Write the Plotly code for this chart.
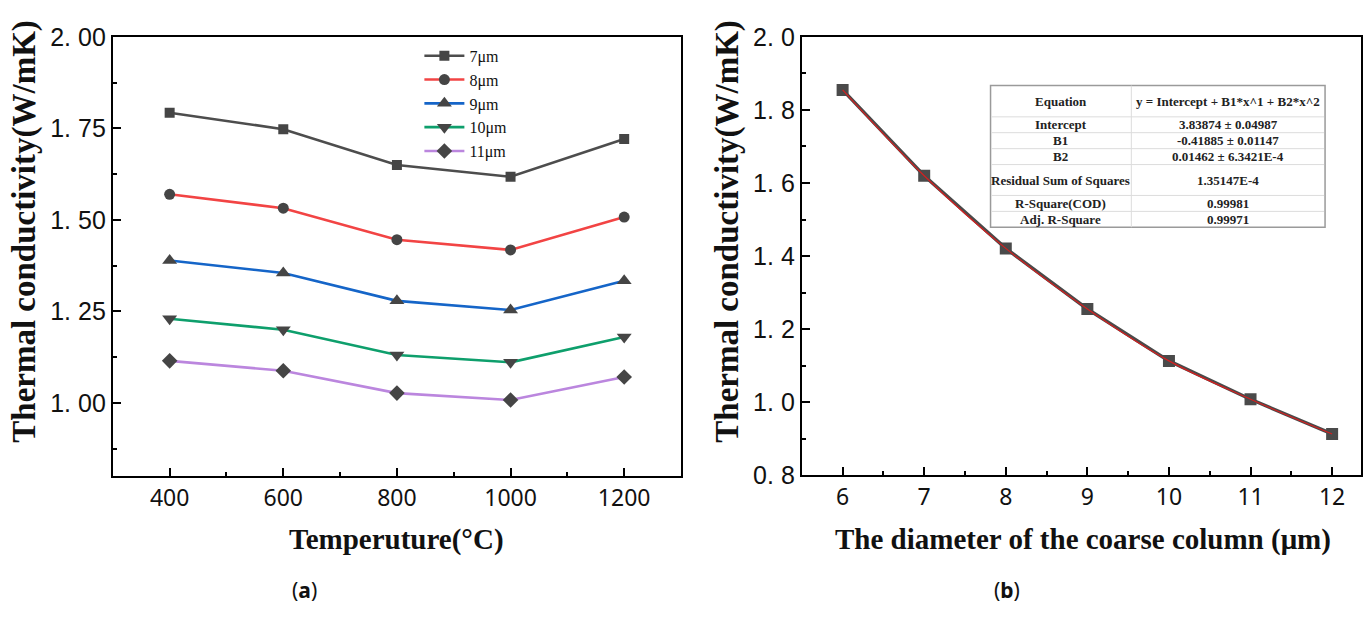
import plotly.graph_objects as go

W, H = 1363, 621

# ---------------- data ----------------
temperature = [400, 600, 800, 1000, 1200]
series_names = ["7μm", "8μm", "9μm", "10μm", "11μm"]
tc_7um = [1.793, 1.748, 1.650, 1.618, 1.721]
tc_8um = [1.570, 1.532, 1.446, 1.418, 1.508]
tc_9um = [1.389, 1.355, 1.279, 1.254, 1.334]
tc_10um = [1.230, 1.200, 1.131, 1.111, 1.180]
tc_11um = [1.115, 1.088, 1.027, 1.008, 1.071]

diameter = [6, 7, 8, 9, 10, 11, 12]
tc_diameter = [1.855, 1.620, 1.421, 1.255, 1.113, 1.008, 0.913]

left_yticks = [1.00, 1.25, 1.50, 1.75, 2.00]
left_yticktext = ["1. 00", "1. 25", "1. 50", "1. 75", "2. 00"]
right_yticks = [0.8, 1.0, 1.2, 1.4, 1.6, 1.8, 2.0]
right_yticktext = ["0. 8", "1. 0", "1. 2", "1. 4", "1. 6", "1. 8", "2. 0"]
left_xticks = [400, 600, 800, 1000, 1200]
right_xticks = [6, 7, 8, 9, 10, 11, 12]

table_labels = ["Equation", "Intercept", "B1", "B2", "Residual Sum of Squares",
                "R-Square(COD)", "Adj. R-Square"]
table_values = ["y = Intercept + B1*x^1 + B2*x^2", "3.83874 ± 0.04987",
                "-0.41885 ± 0.01147", "0.01462 ± 6.3421E-4", "1.35147E-4",
                "0.99981", "0.99971"]

# ---------------- styles ----------------
line_colors = ["#4d4d4d", "#f24444", "#1565c8", "#0e9f6c", "#bb86de"]
marker_symbols = ["square", "circle", "triangle-up", "triangle-down", "diamond"]
marker_sizes = [10, 11, 13, 13, 12]
marker_color = "#454545"

def px(x):
    return x / W

def py(y):
    return 1 - y / H

fig = go.Figure()

left_series = [tc_7um, tc_8um, tc_9um, tc_10um, tc_11um]
for name, vals, col, sym, ms in zip(series_names, left_series, line_colors,
                                    marker_symbols, marker_sizes):
    fig.add_trace(go.Scatter(
        x=temperature, y=vals, name=name, mode="lines+markers",
        line=dict(color=col, width=2.6),
        marker=dict(symbol=sym, size=ms, color=marker_color),
        xaxis="x", yaxis="y"))

fig.add_trace(go.Scatter(
    x=diameter, y=tc_diameter, mode="lines+markers", showlegend=False,
    line=dict(color="#4a4a4a", width=3.5),
    marker=dict(symbol="square", size=12, color="#4a4a4a"),
    xaxis="x2", yaxis="y2"))
fig.add_trace(go.Scatter(
    x=diameter, y=tc_diameter, mode="lines", showlegend=False,
    line=dict(color="#d42020", width=1.2, shape="spline"),
    xaxis="x2", yaxis="y2"))

axis_common = dict(
    showline=True, linecolor="black", linewidth=2, mirror=True,
    ticks="inside", ticklen=8, tickwidth=2, tickcolor="black",
    showgrid=False, zeroline=False,
)

fig.update_layout(
    width=W, height=H,
    margin=dict(l=0, r=0, t=0, b=0, pad=0),
    paper_bgcolor="white", plot_bgcolor="white",
    xaxis=dict(domain=[px(113), px(682)], range=[300, 1300], anchor="y",
               tickvals=left_xticks,
               tickfont=dict(family="Noto Sans", size=23, color="#111"),
               minor=dict(ticks="inside", ticklen=4, tickwidth=2, dtick=100,
                          tick0=300, tickcolor="black"),
               **axis_common),
    yaxis=dict(domain=[py(484), py(24)], range=[0.8, 2.0], anchor="x",
               tickvals=left_yticks, ticktext=left_yticktext,
               tickfont=dict(family="Liberation Sans", size=25, color="#111"),
               minor=dict(ticks="inside", ticklen=4, tickwidth=2, dtick=0.125,
                          tick0=0.875, tickcolor="black"),
               **axis_common),
    xaxis2=dict(domain=[px(803), 1.0], range=[5.5, 12.354], anchor="y2",
                tickvals=right_xticks,
                tickfont=dict(family="Noto Sans", size=23, color="#111"),
                minor=dict(ticks="inside", ticklen=4, tickwidth=2, dtick=0.5,
                           tick0=5.5, tickcolor="black"),
                **axis_common),
    yaxis2=dict(domain=[py(483), py(24)], range=[0.8, 2.0], anchor="x2",
                tickvals=right_yticks, ticktext=right_yticktext,
                tickfont=dict(family="Liberation Sans", size=25, color="#111"),
                minor=dict(ticks="inside", ticklen=4, tickwidth=2, dtick=0.1,
                           tick0=0.9, tickcolor="black"),
                **axis_common),
    legend=dict(x=px(420), y=py(26), xanchor="left", yanchor="top",
                bgcolor="rgba(0,0,0,0)", borderwidth=0,
                font=dict(family="Liberation Serif", size=16, color="#111"),
                tracegroupgap=0, itemwidth=40),
    showlegend=True,
)

annotations = []
ytitle_font = dict(family="Liberation Serif", size=33, color="#111")
xtitle_font = dict(family="Liberation Serif", size=29, color="#111")
annotations.append(dict(text="<b>Thermal conductivity(W/mK)</b>", x=px(25), y=py(227),
                        xref="paper", yref="paper", showarrow=False, textangle=-90,
                        font=ytitle_font, xanchor="center", yanchor="middle"))
annotations.append(dict(text="<b>Thermal conductivity(W/mK)</b>", x=px(729), y=py(227),
                        xref="paper", yref="paper", showarrow=False, textangle=-90,
                        font=ytitle_font, xanchor="center", yanchor="middle"))
annotations.append(dict(text="<b>Temperuture(°C)</b>", x=px(397), y=py(550),
                        xref="paper", yref="paper", showarrow=False,
                        font=xtitle_font, xanchor="center", yanchor="middle"))
annotations.append(dict(text="<b>The diameter of the coarse column (μm)</b>", x=px(1085), y=py(550),
                        xref="paper", yref="paper", showarrow=False,
                        font=xtitle_font, xanchor="center", yanchor="middle"))
annotations.append(dict(text="(<b>a</b>)", x=px(305), y=py(603),
                        xref="paper", yref="paper", showarrow=False,
                        font=dict(family="Noto Sans", size=21, color="#111"),
                        xanchor="center", yanchor="middle"))
annotations.append(dict(text="(<b>b</b>)", x=px(1008), y=py(603),
                        xref="paper", yref="paper", showarrow=False,
                        font=dict(family="Noto Sans", size=21, color="#111"),
                        xanchor="center", yanchor="middle"))

# table
tx0, tx1, tx2 = 992, 1133, 1327
row_edges = [75, 107.7, 124.3, 141, 157.7, 190, 206.7, 223.3]
shapes = []
shapes.append(dict(type="rect", xref="paper", yref="paper",
                   x0=px(tx0), x1=px(tx2), y0=py(row_edges[-1]), y1=py(row_edges[0]),
                   line=dict(color="#9a9a9a", width=1.5), fillcolor="white", layer="above"))
for ry in row_edges[1:-1]:
    shapes.append(dict(type="line", xref="paper", yref="paper",
                       x0=px(tx0 + 1), x1=px(tx2 - 1), y0=py(ry), y1=py(ry),
                       line=dict(color="#dcdcdc", width=1), layer="above"))
shapes.append(dict(type="line", xref="paper", yref="paper",
                   x0=px(tx1), x1=px(tx1), y0=py(row_edges[-1]), y1=py(row_edges[0]),
                   line=dict(color="#dcdcdc", width=1), layer="above"))
tfont = dict(family="Liberation Serif", size=13, color="#222")
for i, (lab, val) in enumerate(zip(table_labels, table_values)):
    yc = (row_edges[i] + row_edges[i + 1]) / 2
    annotations.append(dict(text="<b>%s</b>" % lab, x=px((tx0 + tx1) / 2), y=py(yc),
                            xref="paper", yref="paper", showarrow=False, font=tfont,
                            xanchor="center", yanchor="middle"))
    annotations.append(dict(text="<b>%s</b>" % val, x=px((tx1 + tx2) / 2), y=py(yc),
                            xref="paper", yref="paper", showarrow=False, font=tfont,
                            xanchor="center", yanchor="middle"))

fig.update_layout(annotations=annotations, shapes=shapes)

post = (
    "var d=document.getElementById('{plot_id}');"
    "d.style.position='fixed';d.style.top='0px';d.style.left='0px';"
    "document.documentElement.style.margin='0';document.documentElement.style.padding='0';"
    "document.body.style.margin='0';document.body.style.padding='0';"
    "document.documentElement.style.overflow='hidden';document.body.style.overflow='hidden';"
    "document.documentElement.style.height='621px';document.body.style.height='621px';"
)
fig.write_html("out.html", config={"displayModeBar": False}, post_script=post)
